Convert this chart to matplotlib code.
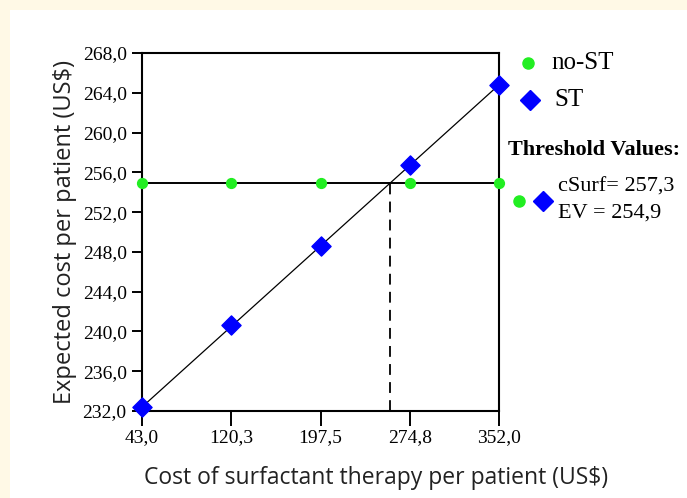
import matplotlib.pyplot as plt
from matplotlib.patches import Rectangle
from matplotlib.lines import Line2D

# dados
custo_st = [43.0, 120.3, 197.5, 274.8, 352.0]
ev_st = [232.4, 240.6, 248.6, 256.7, 264.8]
ev_nost = [254.9, 254.9, 254.9, 254.9, 254.9]
x_ticks = [43.0, 120.3, 197.5, 274.8, 352.0]
y_ticks = [232, 236, 240, 244, 248, 252, 256, 260, 264, 268]
limiar_csurf = 257.3
limiar_ev = 254.9

serif = 'Liberation Serif'
sans = 'Open Sans'

fig = plt.figure(figsize=(6.87, 4.98), dpi=100, facecolor='#FFF9E6')
fig.patches.append(Rectangle((10 / 687, 0), 1, 1 - 10 / 498, transform=fig.transFigure,
                             facecolor='white', edgecolor='none', zorder=-5))

ax = fig.add_axes([142 / 687, 1 - 411 / 498, (499 - 142) / 687, (411 - 53) / 498])
ax.set_facecolor('white')

# linhas e marcadores
ax.plot([custo_st[0], custo_st[-1]], [ev_nost[0], ev_nost[-1]], color='black', lw=1.4, zorder=2)
ax.plot([custo_st[0], custo_st[-1]], [ev_st[0], ev_st[-1]], color='black', lw=0.9, zorder=2)
ax.plot([limiar_csurf, limiar_csurf], [232, limiar_ev], color='black', lw=1.3,
        ls=(0, (6, 4)), zorder=2)
ax.scatter(custo_st, ev_nost, s=50, color='#22EE22', zorder=3, clip_on=False)
ax.scatter(custo_st, ev_st, s=95, marker='D', color='#0000FF', zorder=4, clip_on=False)

ax.set_xlim(43, 352)
ax.set_ylim(232, 268)
ax.set_xticks(x_ticks)
ax.set_xticklabels([f'{v:.1f}'.replace('.', ',') for v in x_ticks], fontfamily=serif, fontsize=14)
ax.set_yticks(y_ticks)
ax.set_yticklabels([f'{v:.1f}'.replace('.', ',') for v in y_ticks], fontfamily=serif, fontsize=14)
ax.tick_params(axis='x', direction='out', length=11, width=1.4, pad=2, colors='black')
ax.tick_params(axis='y', direction='out', length=7, width=1.4, pad=4, colors='black')
for s in ax.spines.values():
    s.set_linewidth(1.5)

ax.set_xlabel('Cost of surfactant therapy per patient (US$)', fontfamily=sans, fontsize=16.5,
              color='#222222')
ax.xaxis.set_label_coords((376 - 142) / 357, -0.155)
ax.set_ylabel('Expected cost per patient (US$)', fontfamily=sans, fontsize=17,
              color='#222222', labelpad=4)

# legenda manual a direita
fig.add_artist(Line2D([528 / 687], [1 - 63 / 498], marker='o', color='#22EE22', ms=8,
                      transform=fig.transFigure))
fig.text(551 / 687, 1 - 63 / 498, 'no-ST', fontfamily=serif, fontsize=18, va='center')
fig.add_artist(Line2D([530 / 687], [1 - 100 / 498], marker='D', color='#0000FF', ms=10,
                      transform=fig.transFigure))
fig.text(554 / 687, 1 - 100 / 498, 'ST', fontfamily=serif, fontsize=18, va='center')
fig.text(508 / 687, 1 - 150 / 498, 'Threshold Values:', fontfamily=serif, fontsize=16,
         fontweight='bold', va='center')
fig.add_artist(Line2D([519 / 687], [1 - 201 / 498], marker='o', color='#22EE22', ms=8,
                      transform=fig.transFigure))
fig.add_artist(Line2D([543 / 687], [1 - 201 / 498], marker='D', color='#0000FF', ms=10,
                      transform=fig.transFigure))
fig.text(558 / 687, 1 - 187 / 498, 'cSurf= 257,3', fontfamily=serif, fontsize=16, va='center')
fig.text(558 / 687, 1 - 213 / 498, 'EV = 254,9', fontfamily=serif, fontsize=16, va='center')

plt.savefig('out.png', dpi=100, facecolor=fig.get_facecolor())
